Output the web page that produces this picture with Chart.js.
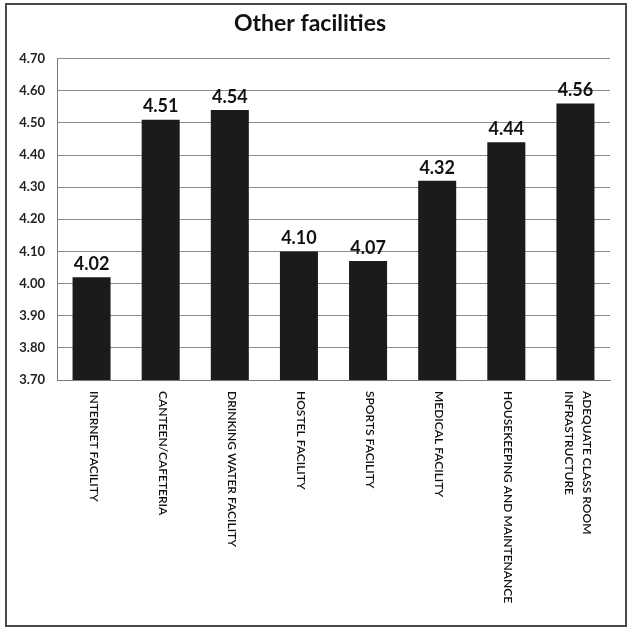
<!DOCTYPE html>
<html>
<head>
<meta charset="utf-8">
<script src="https://cdn.jsdelivr.net/npm/chart.js@4/dist/chart.umd.min.js"></script>
<style>
  html, body { margin: 0; padding: 0; background: #ffffff; }
  #wrap { width: 630px; height: 631px; position: relative; }
</style>
</head>
<body>
<div id="wrap"><canvas id="c" width="630" height="631"></canvas></div>
<script>
// ---- data ----
const categories = [
  ["INTERNET FACILITY"],
  ["CANTEEN/CAFETERIA"],
  ["DRINKING WATER FACILITY"],
  ["HOSTEL FACILITY"],
  ["SPORTS FACILITY"],
  ["MEDICAL FACILITY"],
  ["HOUSEKEEPING AND MAINTENANCE"],
  ["ADEQUATE CLASS ROOM", "INFRASTRUCTURE"]
];
const scores = [4.02, 4.51, 4.54, 4.10, 4.07, 4.32, 4.44, 4.56];
const chartTitle = "Other facilities";
const yMin = 3.70, yMax = 4.70, yStep = 0.10;

// ---- plugins ----
const frame = {
  id: 'frame',
  beforeDraw(chart) {
    const ctx = chart.ctx;
    ctx.save();
    ctx.fillStyle = '#ffffff';
    ctx.fillRect(0, 0, chart.width, chart.height);
    ctx.strokeStyle = '#4a4a4a';
    ctx.lineWidth = 2;
    ctx.strokeRect(6, 4, 620, 622);
    ctx.restore();
  }
};

const valueLabels = {
  id: 'valueLabels',
  afterDatasetsDraw(chart) {
    const ctx = chart.ctx;
    const meta = chart.getDatasetMeta(0);
    ctx.save();
    ctx.font = 'bold 18px Lato';
    ctx.fillStyle = '#111111';
    ctx.textAlign = 'center';
    ctx.textBaseline = 'bottom';
    meta.data.forEach((bar, i) => {
      ctx.fillText(scores[i].toFixed(2), bar.x, bar.y - 4);
    });
    ctx.restore();
  }
};

const rotatedLabels = {
  id: 'rotatedLabels',
  afterDraw(chart) {
    const ctx = chart.ctx;
    const xs = chart.scales.x;
    const top = chart.chartArea.bottom + 11;
    const lineGap = 18;
    ctx.save();
    ctx.font = '600 12px Lato';
    ctx.fillStyle = '#111111';
    ctx.textAlign = 'left';
    ctx.textBaseline = 'middle';
    categories.forEach((lines, i) => {
      const cx = xs.getPixelForValue(i) + 2;
      const n = lines.length;
      lines.forEach((t, j) => {
        const off = ((n - 1) / 2 - j) * lineGap;
        ctx.save();
        ctx.translate(cx + off, top);
        ctx.rotate(Math.PI / 2);
        ctx.fillText(t, 0, 0);
        ctx.restore();
      });
    });
    ctx.restore();
  }
};

new Chart(document.getElementById('c'), {
  type: 'bar',
  data: {
    labels: categories.map(l => l.join(' ')),
    datasets: [{
      data: scores,
      backgroundColor: '#1c1a1b',
      borderWidth: 0,
      barPercentage: 0.55,
      categoryPercentage: 1.0
    }]
  },
  options: {
    responsive: false,
    animation: false,
    devicePixelRatio: 1,
    layout: { padding: { left: 10, right: 20, top: 0, bottom: 0 } },
    plugins: {
      legend: { display: false },
      tooltip: { enabled: false },
      title: {
        display: true,
        text: chartTitle,
        color: '#111111',
        font: { family: 'Lato', size: 23, weight: 'bold' },
        padding: { top: 10, bottom: 21 }
      }
    },
    scales: {
      x: {
        grid: { display: false, drawTicks: false },
        border: { display: true, color: '#777777', width: 1 },
        ticks: { display: false },
        afterFit(scale) { scale.height = 251; }
      },
      y: {
        min: yMin,
        max: yMax,
        ticks: {
          stepSize: yStep,
          padding: 12,
          color: '#222222',
          font: { family: 'Lato', size: 13, weight: 'bold' },
          callback: v => Number(v).toFixed(2)
        },
        grid: { color: '#8c8c8c', lineWidth: 1, drawTicks: false },
        border: { display: true, color: '#777777', width: 1 },
        afterFit(scale) { scale.width = 47; }
      }
    }
  },
  plugins: [frame, valueLabels, rotatedLabels]
});
</script>
</body>
</html>
